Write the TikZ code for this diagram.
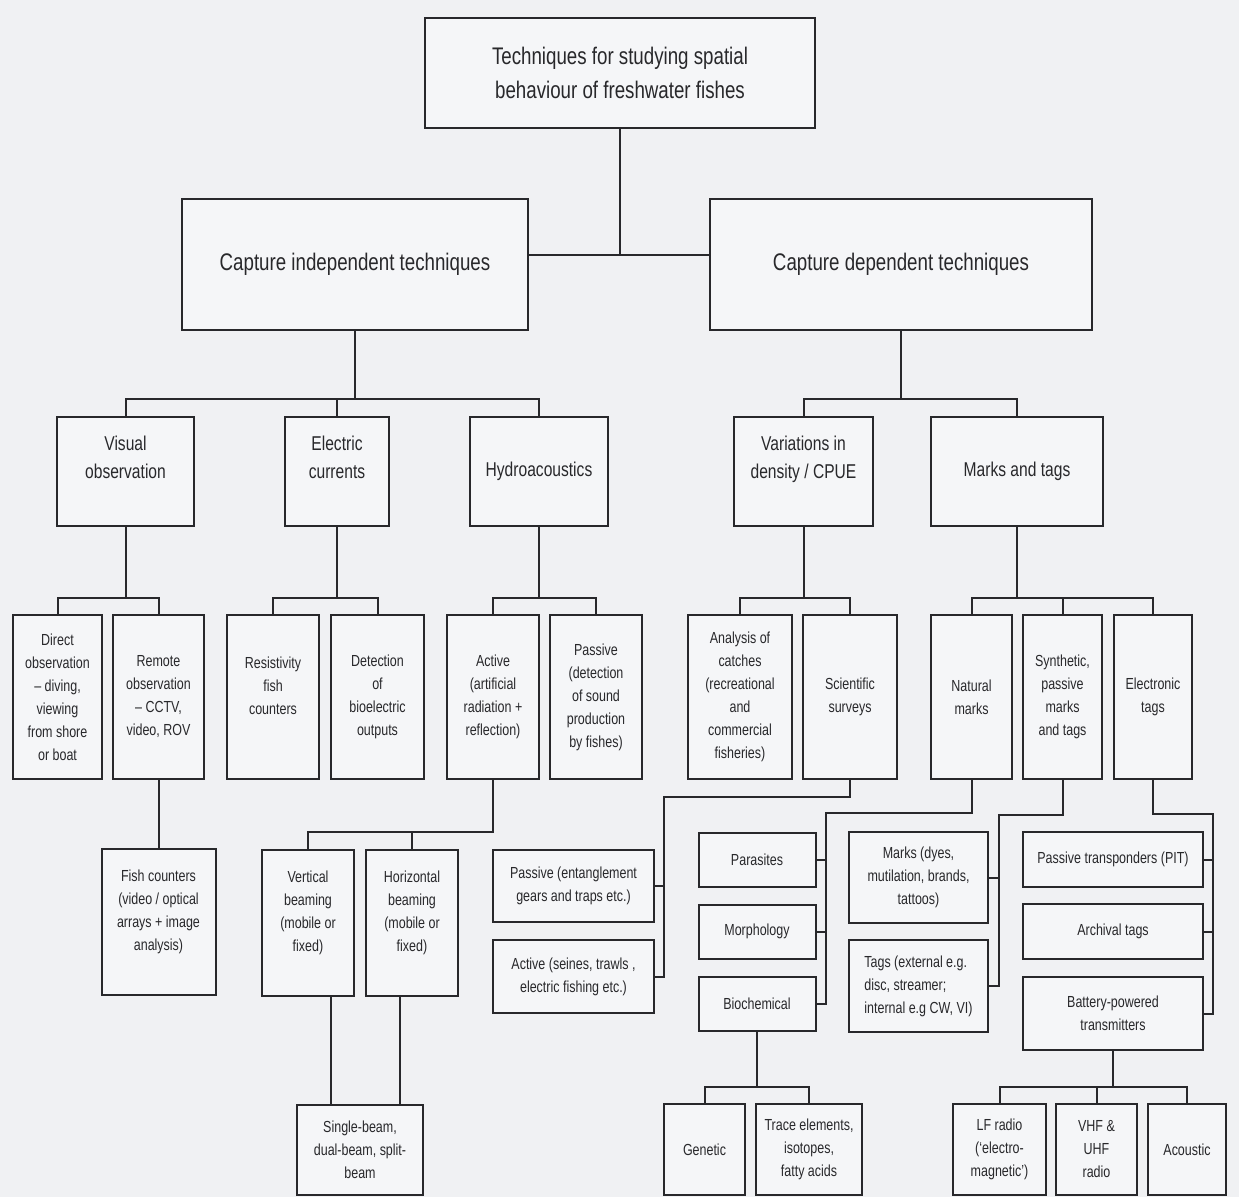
\documentclass[tikz,border=0pt]{standalone}
\usepackage{fontspec}
\setmainfont{Liberation Sans}[FakeStretch=0.78]
\definecolor{paper}{RGB}{240,241,243}
\definecolor{boxfill}{RGB}{245,246,248}
\definecolor{ink}{RGB}{40,40,43}
\tikzset{
  tbox/.style={draw=ink, fill=boxfill, line width=2pt, inner sep=2pt, align=center, text=ink},
  bigtext/.style={tbox, font=\fontsize{24pt}{34pt}\selectfont},
  midtext/.style={tbox, font=\fontsize{20pt}{28pt}\selectfont},
  smalltext/.style={tbox, font=\fontsize{16pt}{23pt}\selectfont},
  wh/.style 2 args={minimum width=#1pt, minimum height=#2pt},
  link/.style={draw=ink, line width=2pt}
}

\begin{document}
\begin{tikzpicture}[x=1pt,y=-1pt]
  \fill[paper] (0,0) rectangle (1239,1197);
  \useasboundingbox (0,0) rectangle (1239,1197);

  \node[bigtext, wh={390}{110}] (root) at (620,73) {Techniques for studying spatial\\behaviour of freshwater fishes};
  \node[bigtext, wh={346}{131}] (capind) at (355,264.5) {Capture independent techniques};
  \node[bigtext, wh={382}{131}] (capdep) at (901,264.5) {Capture dependent techniques};

  \node[midtext, wh={137}{109}] (visual) at (125.5,471.5) {Visual\\observation\\~};
  \node[midtext, wh={104}{109}] (electric) at (337,471.5) {Electric\\currents\\~};
  \node[midtext, wh={138}{109}] (hydro) at (539,471.5) {Hydroacoustics};
  \node[midtext, wh={139}{109}] (variations) at (803.5,471.5) {Variations in\\density / CPUE\\~};
  \node[midtext, wh={172}{109}] (markstags) at (1017,471.5) {Marks and tags};

  \node[smalltext, wh={89}{164}] (direct) at (57.5,697) {Direct\\observation\\– diving,\\viewing\\from shore\\or boat};
  \node[smalltext, wh={91}{164}] (remote) at (158.5,697) {Remote\\observation\\– CCTV,\\video, ROV};
  \node[smalltext, wh={92}{164}] (resist) at (273,697) {Resistivity\\fish\\counters\\~};
  \node[smalltext, wh={93}{164}] (detect) at (377.5,697) {Detection\\of\\bioelectric\\outputs};
  \node[smalltext, wh={92}{164}] (active) at (493,697) {Active\\(artificial\\radiation +\\reflection)};
  \node[smalltext, wh={92}{164}] (passsnd) at (596,697) {Passive\\(detection\\of sound\\production\\by fishes)};
  \node[smalltext, wh={104}{164}] (analysis) at (740,697) {Analysis of\\catches\\(recreational\\and\\commercial\\fisheries)};
  \node[smalltext, wh={94}{164}] (scientific) at (850,697) {Scientific\\surveys};
  \node[smalltext, wh={81}{164}] (natural) at (971.5,697) {Natural\\marks};
  \node[smalltext, wh={79}{164}] (synthetic) at (1062.5,697) {Synthetic,\\passive\\marks\\and tags};
  \node[smalltext, wh={78}{164}] (electronic) at (1153,697) {Electronic\\tags};

  \node[smalltext, wh={114}{146}] (fishcount) at (158.5,922) {Fish counters\\(video / optical\\arrays + image\\analysis)\\~};
  \node[smalltext, wh={92}{146}] (vertbeam) at (308,922.5) {Vertical\\beaming\\(mobile or\\fixed)\\~};
  \node[smalltext, wh={92}{146}] (horizbeam) at (412,922.5) {Horizontal\\beaming\\(mobile or\\fixed)\\~};
  \node[smalltext, wh={126}{90}] (single) at (360,1150) {Single-beam,\\dual-beam, split-\\beam};
  \node[smalltext, wh={161}{72}] (passgear) at (573.5,886) {Passive (entanglement\\gears and traps etc.)};
  \node[smalltext, wh={161}{73}] (actgear) at (573.5,976.5) {Active (seines, trawls ,\\electric fishing etc.)};
  \node[smalltext, wh={117}{54}] (parasites) at (757,860) {Parasites};
  \node[smalltext, wh={117}{54}] (morph) at (757,931.5) {Morphology};
  \node[smalltext, wh={117}{54}] (biochem) at (757,1003.5) {Biochemical};
  \node[smalltext, wh={81}{91}] (genetic) at (704.5,1149.5) {Genetic};
  \node[smalltext, wh={106}{91}] (trace) at (809,1149.5) {Trace elements,\\isotopes,\\fatty acids};
  \node[smalltext, wh={139}{91}] (marksdyes) at (918.5,877.5) {Marks (dyes,\\mutilation, brands,\\tattoos)};
  \node[smalltext, wh={139}{92}, align=left] (tagsext) at (918.5,986) {Tags (external e.g.\\disc, streamer;\\internal e.g CW, VI)};
  \node[smalltext, wh={180}{55}] (pit) at (1113,859.5) {Passive transponders (PIT)};
  \node[smalltext, wh={180}{55}] (archival) at (1113,931.5) {Archival tags};
  \node[smalltext, wh={180}{73}] (battery) at (1113,1013.5) {Battery-powered\\transmitters};
  \node[smalltext, wh={93}{91}] (lfradio) at (999.5,1149.5) {LF radio\\(`electro-\\magnetic')};
  \node[smalltext, wh={81}{91}] (vhf) at (1096.5,1149.5) {VHF \&\\UHF\\radio};
  \node[smalltext, wh={78}{91}] (acoustic) at (1187,1149.5) {Acoustic};

  \coordinate (b1) at (0,255);
  \coordinate (b2) at (0,399);
  \coordinate (b3) at (0,598);
  \coordinate (b4) at (0,832);
  \coordinate (b5) at (0,1087);
  \coordinate (sbus) at (664,797);
  \coordinate (nbus) at (826,813);
  \coordinate (mbus) at (999,815);
  \coordinate (ebus) at (1213,814);

  \draw[link] (root.south) -- (root.south |- b1);
  \draw[link] (capind.east |- b1) -- (capdep.west |- b1);
  \foreach \c in {visual,electric,hydro}
    \draw[link] (capind.south) -- (capind.south |- b2) -| (\c.north);
  \foreach \c in {variations,markstags}
    \draw[link] (capdep.south) -- (capdep.south |- b2) -| (\c.north);
  \foreach \p/\c in {visual/direct,visual/remote,electric/resist,electric/detect,
      hydro/active,hydro/passsnd,variations/analysis,variations/scientific,
      markstags/natural,markstags/synthetic,markstags/electronic}
    \draw[link] (\p.south) -- (\p.south |- b3) -| (\c.north);

  \draw[link] (remote.south) -- (fishcount.north);
  \foreach \c in {vertbeam,horizbeam}
    \draw[link] (active.south) -- (active.south |- b4) -| (\c.north);
  \draw[link] ([xshift=23pt]vertbeam.south) -- ([xshift=23pt]vertbeam.south |- single.north);
  \draw[link] ([xshift=-12pt]horizbeam.south) -- ([xshift=-12pt]horizbeam.south |- single.north);

  \draw[link] (scientific.south) |- (sbus) -- (sbus |- actgear.east) -- (actgear.east);
  \draw[link] (passgear.east) -- (passgear.east -| sbus);

  \draw[link] (natural.south) |- (nbus) -- (nbus |- biochem.east) -- (biochem.east);
  \foreach \c in {parasites,morph}
    \draw[link] (\c.east) -- (\c.east -| nbus);

  \draw[link] (synthetic.south) |- (mbus) -- (mbus |- tagsext.east) -- (tagsext.east);
  \draw[link] (marksdyes.east) -- (marksdyes.east -| mbus);

  \draw[link] (electronic.south) |- (ebus) -- (ebus |- battery.east) -- (battery.east);
  \foreach \c in {pit,archival}
    \draw[link] (\c.east) -- (\c.east -| ebus);

  \foreach \c in {genetic,trace}
    \draw[link] (biochem.south) -- (biochem.south |- b5) -| (\c.north);
  \foreach \c in {lfradio,vhf,acoustic}
    \draw[link] (battery.south) -- (battery.south |- b5) -| (\c.north);
\end{tikzpicture}
\end{document}
